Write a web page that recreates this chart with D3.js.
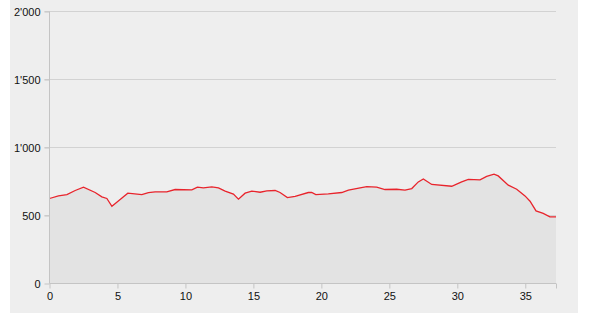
<!DOCTYPE html>
<html>
<head>
<meta charset="utf-8">
<script src="https://cdn.jsdelivr.net/npm/d3@7"></script>
<style>
  body { margin: 0; background: #ffffff; }
  svg { display: block; font-family: "Liberation Sans", Arial, sans-serif; }
</style>
</head>
<body>
<svg id="chart" width="589" height="322"></svg>
<script>
// distance along the route (km) and elevation (m)
const distances = [0, 0.66, 1.28, 1.89, 2.5, 3.36, 3.85, 4.22, 4.59, 5.13,
  5.76, 6.79, 7.28, 7.77, 8.63, 9.24, 10.47, 10.88, 11.32, 11.94,
  12.43, 12.92, 13.53, 13.9, 14.39, 14.88, 15.49, 15.99, 16.6, 16.96,
  17.5, 18.07, 19.04, 19.29, 19.59, 20.51, 21.5, 21.99, 22.85, 23.34,
  24.07, 24.68, 25.54, 26.15, 26.65, 27.13, 27.5, 28.12, 29.59, 30.32,
  30.81, 31.67, 32.16, 32.7, 33.01, 33.75, 34.37, 34.98, 35.35, 35.79,
  36.32, 36.81, 37.26];
const elevations = [625, 644, 654, 684, 708, 669, 637, 625, 568, 612,
  664, 654, 669, 674, 674, 691, 688, 708, 703, 710,
  703, 679, 657, 620, 664, 679, 671, 681, 684, 669,
  632, 640, 669, 669, 654, 659, 669, 686, 703, 713,
  708, 691, 693, 686, 698, 747, 769, 728, 715, 747,
  765, 762, 787, 804, 791, 723, 693, 644, 605, 534,
  515, 490, 490];
const xTicks = [0, 5, 10, 15, 20, 25, 30, 35];
const yTicks = [0, 500, 1000, 1500, 2000];

const svg = d3.select('#chart');
const margin = { left: 49.5, right: 33, top: 11.5, bottom: 38.5 };
const width = 589 - margin.left - margin.right;
const height = 322 - margin.top - margin.bottom;

const locale = d3.formatLocale({ decimal: '.', thousands: "'", grouping: [3], currency: ['', ''] });
const fmt = locale.format(',');

// panel background
svg.append('rect')
  .attr('x', 10).attr('y', 0)
  .attr('width', 568).attr('height', 313)
  .attr('fill', '#eeeeee');

const g = svg.append('g').attr('transform', `translate(${margin.left},${margin.top})`);

const x = d3.scaleLinear().domain([0, d3.max(distances)]).range([0, width]);
const y = d3.scaleLinear().domain([0, 2000]).range([height, 0]);

const data = distances.map((d, i) => ({ d, e: elevations[i] }));

// horizontal grid lines
g.append('g')
  .selectAll('line')
  .data(yTicks.slice(1))
  .join('line')
  .attr('x1', -5).attr('x2', width)
  .attr('y1', d => y(d)).attr('y2', d => y(d))
  .attr('stroke', '#d2d2d2');

const area = d3.area()
  .x(p => x(p.d))
  .y0(y(0))
  .y1(p => y(p.e));

g.append('path')
  .datum(data)
  .attr('d', area)
  .attr('fill', '#e3e3e3');

const line = d3.line()
  .x(p => x(p.d))
  .y(p => y(p.e));

g.append('path')
  .datum(data)
  .attr('d', line)
  .attr('fill', 'none')
  .attr('stroke', '#e8242c')
  .attr('stroke-width', 1.3);

// y axis
const yAxis = g.append('g')
  .call(d3.axisLeft(y).tickValues(yTicks).tickFormat(fmt).tickSize(5).tickPadding(4));
yAxis.select('.domain').attr('stroke', '#c4c4c4').attr('d', `M0,0V${height}`);
yAxis.selectAll('.tick line').attr('stroke', '#c4c4c4');
yAxis.selectAll('text').attr('fill', '#111').style('font-size', '11px');

// x axis
const xAxis = g.append('g')
  .attr('transform', `translate(0,${height})`)
  .call(d3.axisBottom(x).tickValues(xTicks.concat([d3.max(distances)])).tickFormat(d => xTicks.includes(d) ? d : '').tickSize(5).tickPadding(4));
xAxis.select('.domain').attr('stroke', '#c4c4c4').attr('d', `M0,0H${width}`);
xAxis.selectAll('.tick line').attr('stroke', '#c4c4c4');
xAxis.selectAll('text').attr('fill', '#111').style('font-size', '11px');
</script>
</body>
</html>
